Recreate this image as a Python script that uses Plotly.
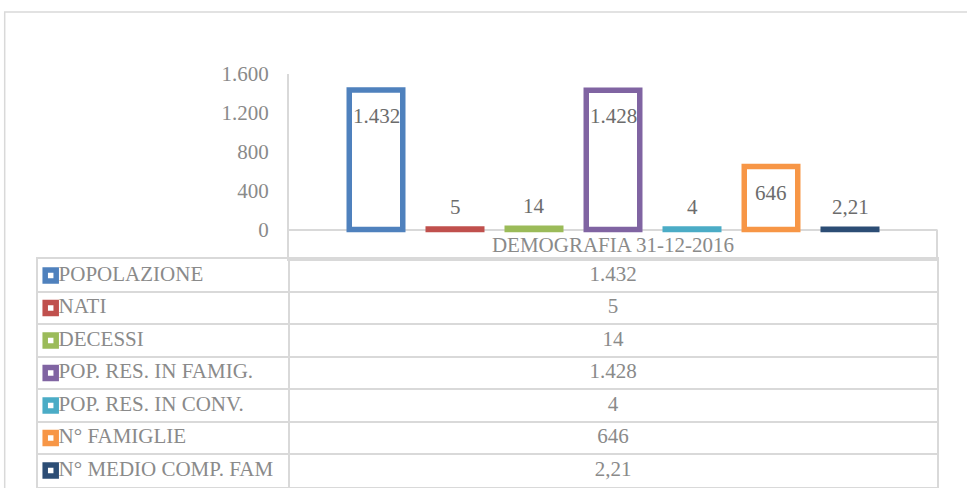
import plotly.graph_objects as go

# dati demografia
categoria = "DEMOGRAFIA 31-12-2016"
voci = ["POPOLAZIONE", "NATI", "DECESSI", "POP. RES. IN FAMIG.",
        "POP. RES. IN CONV.", "N° FAMIGLIE", "N° MEDIO COMP. FAM"]
valori = [1432, 5, 14, 1428, 4, 646, 2.21]
tick_y = [0, 400, 800, 1200, 1600]
colori = ["#4F81BD", "#C0504D", "#9BBB59", "#8064A2", "#4BACC6", "#F79646", "#2C4D75"]

W, H = 967, 488
FONT = "Liberation Serif, Times New Roman, serif"
GRIGIO = "#8a8a8a"
LINEA = "#d9d9d9"


def fmt_it(v):
    # formato italiano: punto per le migliaia, virgola per i decimali
    if float(v).is_integer():
        return f"{int(v):,}".replace(",", ".")
    return f"{v:.2f}".replace(".", ",")


# geometria (pixel)
plot_l, plot_r = 289, 937
y_top, y_zero, y_row = 73.5, 229.5, 259.2
tab_l, tab_b = 38, 486.7
px_unit = 39 / 400
y_min = -(y_row - y_zero) / px_unit
slot = 79
extra = ((plot_r - plot_l) - slot * len(voci)) / 2 / slot
col_div = (plot_l - tab_l) / (plot_r - tab_l)
col_val = ((plot_l + plot_r) / 2 - tab_l) / (plot_r - tab_l)
key_x = (50.7 - tab_l) / (plot_r - tab_l)

fig = go.Figure()

fig.add_trace(go.Bar(
    x=voci, y=valori,
    marker=dict(color="white", line=dict(color=colori, width=5.5)),
    xaxis="x", yaxis="y", showlegend=False, hoverinfo="skip"))

# etichette dati
for v, n in zip(valori, voci):
    dentro = v * px_unit > 40
    fig.add_annotation(x=n, y=v, xref="x", yref="y", text=fmt_it(v),
                       showarrow=False, yanchor="middle",
                       yshift=-26 if dentro else 22.5,
                       font=dict(family=FONT, size=21, color="#6c6c6c"))

# tabella dati
righe = list(range(len(voci)))
fig.add_trace(go.Scatter(
    x=[key_x] * len(voci), y=righe, mode="markers+text",
    text=voci, textposition="middle right",
    textfont=dict(family=FONT, size=21, color=GRIGIO),
    marker=dict(symbol="square", size=11, color="white",
                line=dict(color=colori, width=5.5)),
    xaxis="x2", yaxis="y2", showlegend=False, hoverinfo="skip", cliponaxis=False))
fig.add_trace(go.Scatter(
    x=[col_val] * len(voci), y=righe, mode="text",
    text=[fmt_it(v) for v in valori], textposition="middle center",
    textfont=dict(family=FONT, size=21, color=GRIGIO),
    xaxis="x2", yaxis="y2", showlegend=False, hoverinfo="skip"))

fig.update_layout(
    template="none",
    width=W, height=H,
    margin=dict(l=0, r=0, t=0, b=0, pad=0),
    paper_bgcolor="white", plot_bgcolor="rgba(0,0,0,0)",
    bargap=1 - 53.5 / slot,
    xaxis=dict(domain=[plot_l / W, plot_r / W], type="category",
               range=[-0.5 - extra, len(voci) - 0.5 + extra],
               tickvals=[voci[3]], ticktext=[categoria],
               ticklabelposition="inside", ticklabelstandoff=4, ticks="",
               tickfont=dict(family=FONT, size=21, color=GRIGIO),
               showline=True, linecolor=LINEA, linewidth=2,
               showgrid=False, zeroline=False, fixedrange=True,
               automargin=False),
    yaxis=dict(domain=[(H - y_row) / H, (H - y_top) / H],
               range=[y_min, 1600], tickvals=tick_y,
               ticktext=[fmt_it(t) for t in tick_y],
               tickfont=dict(family=FONT, size=21, color=GRIGIO),
               ticks="", ticklabelstandoff=14,
               showline=True, linecolor=LINEA, linewidth=2,
               showgrid=False, zeroline=True, zerolinecolor=LINEA,
               zerolinewidth=2, fixedrange=True, automargin=False),
    xaxis2=dict(domain=[tab_l / W, plot_r / W], range=[0, 1],
                anchor="y2", tickvals=[col_div], showticklabels=False,
                showgrid=True, gridcolor=LINEA, gridwidth=2, zeroline=False,
                showline=True, mirror=True, linecolor=LINEA, linewidth=2,
                ticks="", automargin=False, fixedrange=True),
    yaxis2=dict(domain=[(H - tab_b) / H, (H - y_row) / H],
                range=[len(voci) - 0.5, -0.5], anchor="x2",
                tickvals=[r + 0.5 for r in righe[:-1]], showticklabels=False,
                showgrid=True, gridcolor=LINEA, gridwidth=2, zeroline=False,
                showline=True, mirror=True, linecolor=LINEA, linewidth=2,
                ticks="", automargin=False, fixedrange=True),
    shapes=[
        # bordo destro della riga categoria
        dict(type="line", xref="x domain", yref="y", x0=1, x1=1,
             y0=y_min, y1=0, line=dict(color=LINEA, width=2)),
        # cornice del grafico
        dict(type="rect", xref="paper", yref="paper",
             x0=4.7 / W, x1=1.1, y0=-0.1, y1=(H - 12) / H,
             line=dict(color=LINEA, width=1.5)),
    ],
)

fig.write_html("out.html", config={"displayModeBar": False},
               post_script="document.body.style.margin='0';")
